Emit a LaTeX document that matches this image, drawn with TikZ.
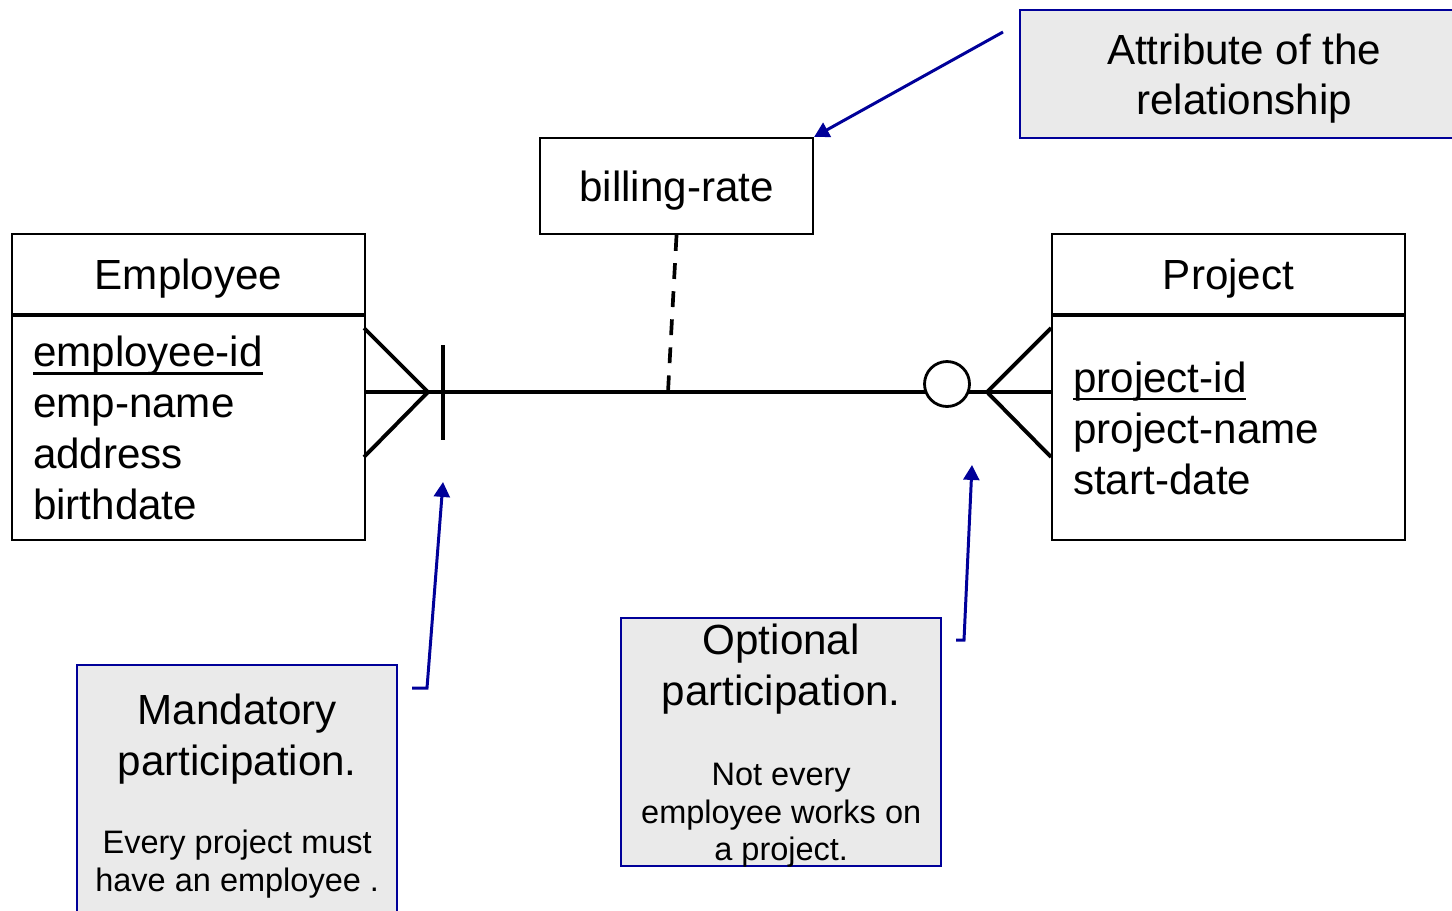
\documentclass[tikz,border=0pt]{standalone}
\usepackage{fontspec}
\setmainfont{Liberation Sans}
\usepackage{tikz}
\usetikzlibrary{arrows.meta}
\definecolor{noteblue}{RGB}{0,0,153}
\definecolor{notegray}{RGB}{234,234,234}
\newcommand{\mainsize}{\fontsize{24}{29}\selectfont}
\newcommand{\notesize}{\fontsize{18.5}{21.5}\selectfont}
\newcommand{\keyattr}[1]{\setbox0\hbox{#1}\rlap{\rule[-4.5pt]{\wd0}{1.3pt}}#1}

\begin{document}
\begin{tikzpicture}[x=0.02cm,y=-0.02cm,
        entity/.style={draw=black,line width=1.2pt,inner sep=0pt,font=\mainsize},
        headbox/.style={entity,text depth=0pt},
        attrlist/.style={entity,inner xsep=0.42cm,text width=6.22cm,align=left,minimum width=7.06cm,minimum height=4.48cm},
        relline/.style={line width=2.2pt},
        callbox/.style={draw=noteblue,fill=notegray,line width=1.4pt,inner sep=0pt},
        calltext/.style={text width=6.2cm,align=flush center,inner sep=0pt,yshift=-2pt},
        callarrow/.style={draw=noteblue,line width=1.7pt,-{Triangle[length=8.5pt,width=9pt]}},
        ]
        \useasboundingbox (0,0) rectangle (1452,910);
        % entities
        \node at (11,233) [headbox,anchor=north west,minimum width=7.06cm,minimum height=1.6cm] (emphead) {Employee};
        \node at (emphead.south west) [attrlist,anchor=north west] (empattr) {\keyattr{employee-id}\\emp-name\\address\\birthdate};
        \node at (1051,233) [headbox,anchor=north west,minimum width=7.06cm,minimum height=1.6cm] (projhead) {Project};
        \node at (projhead.south west) [attrlist,anchor=north west] (projattr) {\keyattr{project-id}\\project-name\\start-date};
        % relationship with its attribute
        \node at (539,137) [headbox,anchor=north west,minimum width=5.46cm,minimum height=1.92cm] (rate) {billing-rate};
        \coordinate (efoot) at (428,392);
        \coordinate (pfoot) at (987,392);
        \coordinate (ratejoin) at (668,392);
        \draw[relline] (empattr.east |- efoot) -- (projattr.west |- pfoot);
        \draw[relline] (364,328) -- (efoot) -- (364,457);
        \draw[relline] (443,345) -- (443,440);
        \draw[relline] (1051,328) -- (pfoot) -- (1051,457);
        \node at (947,384) [circle,draw,fill=white,line width=1.6pt,inner sep=0pt,minimum size=0.9cm] (optmark) {};
        \draw[line width=2.1pt,dash pattern=on 9pt off 7pt] (rate.south) -- (ratejoin);
        % notes
        \node at (1019,9) [callbox,anchor=north west,minimum width=8.96cm,minimum height=2.56cm,font=\mainsize,align=center,text depth=0pt] (attrnote) {Attribute of the\\relationship};
        \node at (76,664) [callbox,anchor=north west,minimum width=6.4cm,minimum height=5.08cm] (mandnote) {};
        \node at (mandnote.center) [calltext] (mandtext) {\mainsize Mandatory\par participation.\par\vspace{23pt}\notesize Every project must\par have an employee .\par};
        \node at (620,617) [callbox,anchor=north west,minimum width=6.4cm,minimum height=4.96cm] (optnote) {};
        \node at (optnote.center) [calltext] (opttext) {\mainsize Optional\par participation.\par\vspace{24pt}\notesize Not every\par employee works on\par a project.\par};
        % pointers
        \coordinate (attrtail) at (1003,32);
        \draw[callarrow] (attrtail) -- (rate.north east);
        \coordinate (mandtail) at (412,688);
        \coordinate (mandbend) at (427,688);
        \coordinate (mandtip) at (443,482);
        \draw[callarrow] (mandtail) -- (mandbend) -- (mandtip);
        \coordinate (opttail) at (956,640);
        \coordinate (optbend) at (964,640);
        \coordinate (opttip) at (972,465);
        \draw[callarrow] (opttail) -- (optbend) -- (opttip);
\end{tikzpicture}
\end{document}
